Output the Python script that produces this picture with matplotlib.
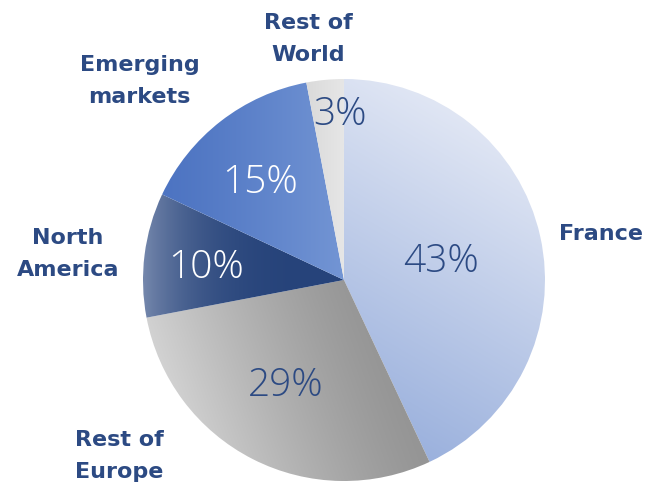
import numpy as np
import matplotlib.pyplot as plt
from matplotlib.patches import Wedge
from matplotlib.colors import to_rgb

# revenue split by region (%)
regions = ["France", "Rest of\nEurope", "North\nAmerica", "Emerging\nmarkets", "Rest of\nWorld"]
shares = [43, 29, 10, 15, 3]

# fill styles: (dark end, light end, gradient direction in degrees, gamma)
fills = [("#9bb1dd", "#e0e6f4", 60, 1.0),
         ("#959595", "#d2d2d2", 200, 1.3),
         ("#26437a", "#7386ab", 180, 3.5),
         ("#4d74c2", "#7395d4", 0, 1.2),
         ("#dadada", "#e6e6e6", 0, 1.0)]
pct_colors = ["#2c4a83", "#2c4a83", "white", "white", "#2c4a83"]
pct_dist = [0.49, 0.60, 0.69, 0.64, 0.82]
pct_shift = [-2, -2, 2, 3, -4]          # small angular nudges of the % labels
lab_dist = [1.30, 1.42, 1.38, 1.42, 1.21]
lab_shift = [-2.5, -25, 1.8, 8, 3]

navy = "#2c4a83"
plt.rcParams['font.family'] = ['Open Sans', 'DejaVu Sans']

fig = plt.figure(figsize=(6.48, 4.84), dpi=100)
ax = fig.add_axes([0, 0, 1, 1])
ax.set_xlim(-344 / 201, (648 - 344) / 201)
ax.set_ylim(-(484 - 280) / 201, 280 / 201)
ax.axis("off")

n = 400
xs = np.linspace(-1, 1, n)
X, Y = np.meshgrid(xs, xs)

total = float(sum(shares))
start = 90.0
for i, (name, v) in enumerate(zip(regions, shares)):
    span = 360.0 * v / total
    theta2 = start
    theta1 = start - span
    c0, c1, ang, gam = fills[i]
    d = np.radians(ang)
    proj = X * np.cos(d) + Y * np.sin(d)
    # limit the gradient range to points inside this wedge
    phi = np.degrees(np.arctan2(Y, X))
    rel = (phi - theta1) % 360
    inside = (rel <= span) & (X ** 2 + Y ** 2 <= 1)
    lo, hi = proj[inside].min(), proj[inside].max()
    t = np.clip((proj - lo) / (hi - lo), 0, 1) ** gam
    t = t[..., None]
    img = (1 - t) * np.array(to_rgb(c0)) + t * np.array(to_rgb(c1))
    w = Wedge((0, 0), 1, theta1, theta2, facecolor="none", edgecolor="none")
    ax.add_patch(w)
    im = ax.imshow(img, extent=[-1, 1, -1, 1], origin="lower",
                   interpolation="bilinear", zorder=1)
    im.set_clip_path(w)

    mid = np.radians((theta1 + theta2) / 2 + pct_shift[i])
    ax.text(pct_dist[i] * np.cos(mid), pct_dist[i] * np.sin(mid), f"{v}%",
            ha="center", va="center", fontsize=28, fontweight="light",
            color=pct_colors[i], zorder=3)
    mid = np.radians((theta1 + theta2) / 2 + lab_shift[i])
    ax.text(lab_dist[i] * np.cos(mid), lab_dist[i] * np.sin(mid), name,
            ha="center", va="center", fontsize=16, fontweight="bold",
            family="DejaVu Sans", color=navy, linespacing=1.75, zorder=3)
    start = theta1

fig.savefig("out.png", dpi=100)
